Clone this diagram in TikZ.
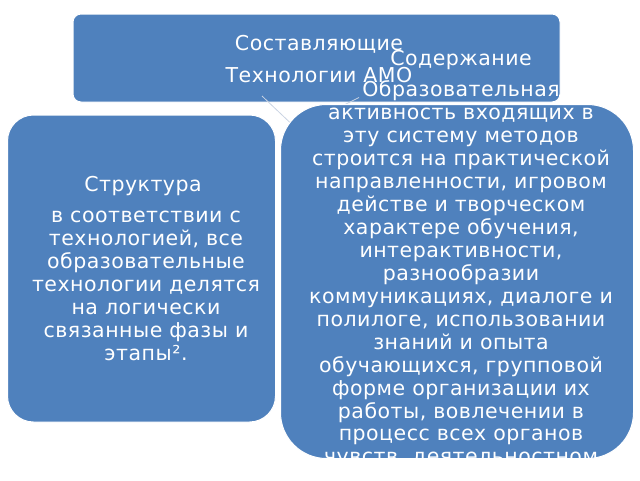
\documentclass[tikz,border=0pt]{standalone}
\usepackage{fontspec}
\setmainfont{DejaVu Sans}[LetterSpace=2.4]
\definecolor{boxblue}{HTML}{4F81BD}
\definecolor{linkgray}{HTML}{C9D3E2}
\tikzset{
  box/.style={draw=white, line width=1pt, fill=boxblue, inner sep=0pt, outer sep=0pt},
  txt/.style={text=white, inner sep=0pt, align=center},
  body/.style={txt, font=\fontsize{20.5}{22.95}\selectfont},
  head/.style={txt, font=\fontsize{20.5}{32}\selectfont},
  link/.style={draw=linkgray, line width=0.8pt}
}
\begin{document}
\begin{tikzpicture}[x=1pt,y=-1pt]
\useasboundingbox (0,0) rectangle (640,480);
% parent box
\node[box, rounded corners=8pt, minimum width=487pt, minimum height=88pt] (top) at (316.5,58) {};
% connector ends
\coordinate (l1a) at (262,96);
\coordinate (l1b) at (300,132);
\coordinate (l2a) at (359,97.5);
\coordinate (l2b) at (320,117);
\draw[link] (l1a) -- (l1b);
\draw[link] (l2a) -- (l2b);
% child boxes
\node[box, rounded corners=26pt, minimum width=268pt, minimum height=307pt] (left) at (141.5,268.5) {};
\node[box, rounded corners=46pt, minimum width=353pt, minimum height=354pt] (right) at (457,281.5) {};
% texts
\node[head] (toptxt) at (319,59) {Составляющие\\Технологии АМО};
\node[body] (lefthead) at (143,186) {Структура};
\node[body] (lefttxt) at (146,286) {в соответствии с\\технологией, все\\образовательные\\технологии делятся\\на логически\\связанные фазы и\\этапы².};
\node[body] (righthead) at (461,60) {Содержание};
\begin{scope}
\clip (0,0) rectangle (640,458);
\node[body] (righttxt) at (461,274.5) {Образовательная\\активность входящих в\\эту систему методов\\строится на практической\\направленности, игровом\\действе и творческом\\характере обучения,\\интерактивности,\\разнообразии\\коммуникациях, диалоге и\\полилоге, использовании\\знаний и опыта\\обучающихся, групповой\\форме организации их\\работы, вовлечении в\\процесс всех органов\\чувств, деятельностном};
\end{scope}
\end{tikzpicture}
\end{document}
